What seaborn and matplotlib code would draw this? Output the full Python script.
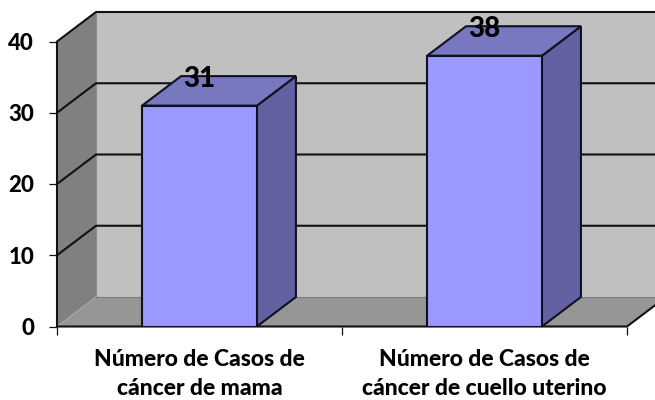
import matplotlib
matplotlib.use("Agg")
import matplotlib.pyplot as plt
from matplotlib.patches import Polygon
import seaborn as sns
import pandas as pd

categories = ["Número de Casos de\ncáncer de mama", "Número de Casos de\ncáncer de cuello uterino"]
values = [31, 38]
y_ticks = [0, 10, 20, 30, 40]
data_labels = ["31", "38"]

sns.set_style("white")
plt.rcParams["font.family"] = ["Lato", "DejaVu Sans"]
plt.rcParams["text.color"] = "black"
plt.rcParams["xtick.labelcolor"] = "black"
plt.rcParams["ytick.labelcolor"] = "black"

W, H = 655, 400
fig = plt.figure(figsize=(W / 100, H / 100), dpi=100)
ax = fig.add_axes([57 / W, (H - 326.5) / H, 570 / W, 285 / H])
ax.patch.set_visible(False)

df = pd.DataFrame({"cat": categories, "val": values})
sns.barplot(data=df, x="cat", y="val", ax=ax, width=0.403, color="#9999FF", saturation=1,
            edgecolor="#101020", linewidth=1.5, errorbar=None, zorder=6)

ax.set_xlim(-0.5, 1.5)
ax.set_ylim(0, 40)
dx, dy = 39 / 285, 29.5 * 40 / 285
x0, x1 = -0.5, 1.5
ymax = y_ticks[-1]


def poly(pts, fc, ec="none", lw=0, z=1):
    ax.add_patch(Polygon(pts, closed=True, facecolor=fc, edgecolor=ec, linewidth=lw, zorder=z, clip_on=False))


poly([(x0 + dx, dy), (x1 + dx, dy), (x1 + dx, ymax + dy), (x0 + dx, ymax + dy)], "#C0C0C0", z=1)
poly([(x0, 0), (x0 + dx, dy), (x0 + dx, ymax + dy), (x0, ymax)], "#808080", z=1)
poly([(x0, 0), (x1, 0), (x1 + dx, dy), (x0 + dx, dy)], "#969696", z=1)

line = dict(color="#111111", lw=1.5, clip_on=False, solid_capstyle="round", solid_joinstyle="round")
for t in y_ticks[1:]:
    ax.plot([x0, x0 + dx, x1 + dx], [t, t + dy, t + dy], zorder=3, **line)
ax.plot([x0 + dx, x0 + dx], [0 + dy, ymax + dy], color="#8C8C8C", lw=0.8, zorder=2, clip_on=False)
ax.plot([x0, x0 + dx], [0, dy], color="#A8A8A8", lw=0.8, zorder=2, clip_on=False)
ax.plot([x0 + dx, x1 + dx], [dy, dy], color="#7C7C7C", lw=0.8, zorder=2, clip_on=False)
ax.plot([x0, x0], [0, ymax], zorder=3, **line)
ax.plot([x0, x1, x1 + dx], [0, 0, dy], zorder=3, **line)

w = 0.403
for i, v in enumerate(values):
    l, r = i - w / 2, i + w / 2
    poly([(r, 0), (r + dx, dy), (r + dx, v + dy), (r, v)], "#6262A3", "#101020", 1.5, z=5)
    poly([(l, v), (r, v), (r + dx, v + dy), (l + dx, v + dy)], "#7878C0", "#101020", 1.5, z=5)
    ax.text(i, v + 3.8, data_labels[i], ha="center", va="center", fontsize=20, fontweight=900,
            color="black", zorder=8, clip_on=False)

for s in ax.spines.values():
    s.set_visible(False)
ax.set_xlabel("")
ax.set_ylabel("")
ax.set_yticks(y_ticks)
ax.set_xticks([0, 1])
ax.set_xticklabels(categories, fontsize=16.5, fontweight=900, linespacing=1.5, color="black")
ax.set_xticks([-0.5, 0.5, 1.5], minor=True)
ax.tick_params(axis="x", which="major", length=0, pad=16, bottom=True)
ax.tick_params(axis="x", which="minor", length=6, width=0.9, color="#111111", bottom=True)
ax.tick_params(axis="y", length=5.5, width=0.9, color="#111111", pad=11, labelsize=16, left=True)
for lab in ax.get_yticklabels():
    lab.set_fontweight(900)
    lab.set_color("black")
    lab.set_verticalalignment("center_baseline")

fig.savefig("out.png", dpi=100)
